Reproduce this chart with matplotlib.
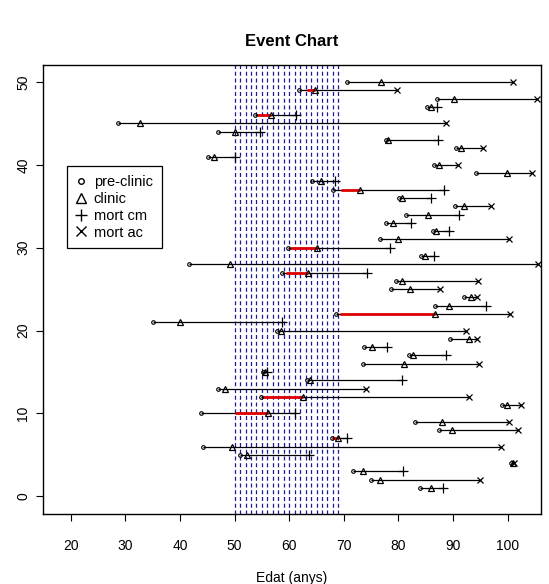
import matplotlib
matplotlib.use('Agg')
import matplotlib.pyplot as plt
from matplotlib.lines import Line2D
import numpy as np

plt.rcParams['font.family'] = ['Liberation Sans', 'DejaVu Sans']

# one row per subject (1..50): pre-clinic age, clinic age, end age, end type
rows = list(range(1, 51))
pre_clinic = [83.9, 74.9, 71.6, 100.6, 51.0, 44.2, 67.8, 87.4, 83.1, 43.9,
              98.9, 54.8, 47.0, 63.2, 55.2, 73.5, 82.0, 73.7, 89.4, 57.7,
              35.1, 68.6, 86.7, 92.1, 78.7, 79.5, 58.6, 41.6, 84.2, 59.7,
              76.6, 86.4, 77.7, 81.3, 90.4, 80.1, 68.0, 64.2, 94.2, 86.5,
              45.1, 90.6, 77.8, 46.9, 28.7, 53.8, 85.2, 87.1, 61.8, 70.5]
clinic = [85.9, 76.6, 73.5, 100.9, 52.2, 49.5, 69.0, 89.8, 87.9, 56.1,
          99.9, 62.5, 48.2, 63.8, 55.5, 81.0, 82.6, 75.2, 92.9, 58.5,
          40.0, 86.7, 89.2, 93.3, 82.2, 80.7, 63.5, 49.2, 84.8, 65.0,
          80.0, 86.9, 79.0, 85.5, 92.0, 80.7, 72.9, 65.8, 99.8, 87.5,
          46.2, 91.4, 78.1, 50.0, 32.7, 56.6, 86.0, 90.1, 64.8, 76.8]
end_age = [88.1, 94.9, 80.9, 101.2, 63.6, 98.8, 70.6, 101.9, 100.3, 61.0,
           102.4, 93.0, 74.1, 80.7, 55.9, 94.8, 88.7, 77.9, 94.3, 92.3,
           58.7, 100.5, 96.1, 94.3, 87.6, 94.6, 74.3, 105.6, 86.5, 78.5,
           100.3, 89.3, 82.3, 91.1, 96.9, 85.9, 88.3, 68.4, 104.4, 90.9,
           50.0, 95.5, 87.3, 54.7, 88.7, 61.2, 87.0, 105.3, 79.8, 101.0]
end_type = ['cm', 'ac', 'cm', 'ac', 'cm', 'ac', 'cm', 'ac', 'ac', 'cm',
            'ac', 'ac', 'ac', 'cm', 'cm', 'ac', 'cm', 'cm', 'ac', 'ac',
            'cm', 'ac', 'cm', 'ac', 'ac', 'ac', 'cm', 'ac', 'cm', 'cm',
            'ac', 'cm', 'cm', 'cm', 'ac', 'cm', 'cm', 'cm', 'ac', 'ac',
            'cm', 'ac', 'cm', 'cm', 'ac', 'cm', 'cm', 'ac', 'ac', 'ac']

# red stretches (row, start, end)
red_rows = [7, 10, 12, 22, 27, 30, 37, 46, 49]
red_start = [67.9, 50.1, 55.2, 69.3, 59.5, 60.1, 69.4, 54.1, 63.3]
red_end = [69.0, 56.1, 62.5, 86.7, 63.5, 65.0, 72.9, 56.6, 64.8]

window = list(range(50, 70))

rows = np.array(rows)
end_age = np.array(end_age)
is_cm = np.array([t == 'cm' for t in end_type])

fig = plt.figure(figsize=(5.49, 5.84), dpi=100)
ax = fig.add_axes([0.0783, 0.1205, 0.907, 0.769])

for v in window:
    ax.axvline(v, color='#1a1a9a', ls=(0, (3.2, 2.2)), lw=0.9, zorder=1)

ax.hlines(rows, pre_clinic, end_age, color='black', lw=0.9, zorder=2)
ax.hlines(red_rows, red_start, red_end, color='#e00000', lw=2, zorder=3)

ax.plot(pre_clinic, rows, 'o', ms=2.6, mfc='none', mec='black', mew=0.8, zorder=4)
ax.plot(clinic, rows, '^', ms=4.5, mfc='none', mec='black', mew=0.9, zorder=4)
ax.plot(end_age[is_cm], rows[is_cm], '+', ms=6.5, color='black', mew=0.9, zorder=4)
ax.plot(end_age[~is_cm], rows[~is_cm], 'x', ms=4.5, color='black', mew=0.9, zorder=4)

ax.set_xlim(14.9, 106.1)
ax.set_ylim(-2.1, 52.1)
ax.set_xticks(range(20, 101, 10))
ax.set_yticks(range(0, 51, 10))
for lab in ax.get_yticklabels():
    lab.set_rotation(90)
    lab.set_va('center')
ax.tick_params(axis='x', length=5, pad=13, labelsize=10)
ax.tick_params(axis='y', length=5, pad=4, labelsize=10)
for s in ax.spines.values():
    s.set_linewidth(1)

ax.set_xlabel('Edat (anys)', fontsize=10, labelpad=13)
ax.set_title('Event Chart', fontsize=12, fontweight='bold', pad=13)

handles = [
    Line2D([], [], ls='none', marker='o', ms=4, mfc='none', mec='black'),
    Line2D([], [], ls='none', marker='^', ms=7, mfc='none', mec='black'),
    Line2D([], [], ls='none', marker='+', ms=9, color='black'),
    Line2D([], [], ls='none', marker='x', ms=7, color='black'),
]
leg = ax.legend(handles, ['pre-clinic', 'clinic', 'mort cm', 'mort ac'],
                loc='upper left', bbox_to_anchor=(0.048, 0.774),
                fontsize=10.5, fancybox=False, edgecolor='black',
                framealpha=1, handlelength=0.8, handletextpad=0.45,
                borderpad=0.6, labelspacing=0.2, borderaxespad=0)
leg.get_frame().set_linewidth(0.9)

fig.savefig('out.png', dpi=100)
